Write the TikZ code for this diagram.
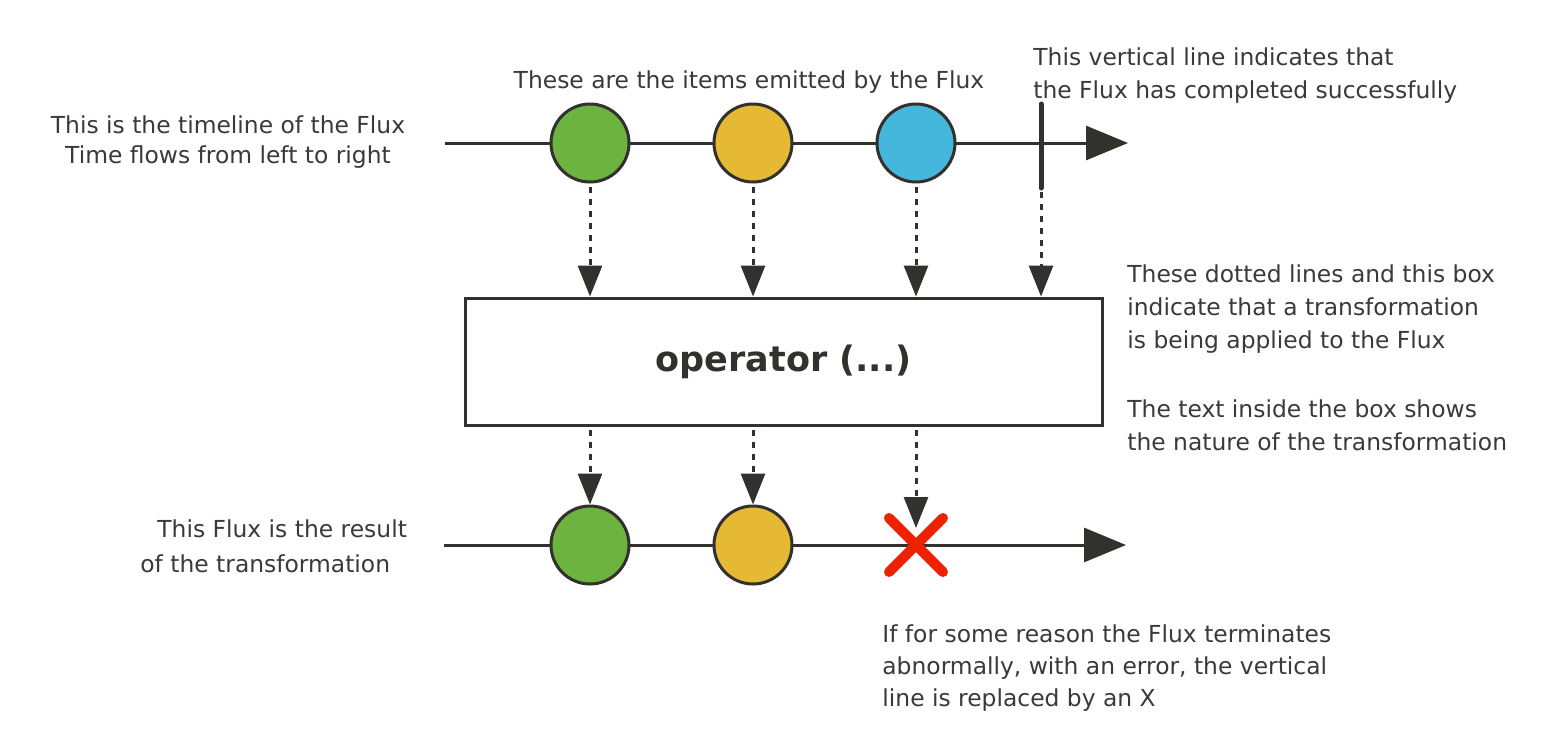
\documentclass[tikz,border=0pt]{standalone}
\usepackage{fontspec}
\setmainfont{DejaVu Sans}
\usetikzlibrary{arrows.meta}
\definecolor{ink}{HTML}{33312E}
\definecolor{txt}{HTML}{3A3A3A}
\definecolor{fgreen}{HTML}{6DB33F}
\definecolor{fyellow}{HTML}{E6B935}
\definecolor{fblue}{HTML}{45B6DC}
\definecolor{fred}{HTML}{EE2200}
\begin{document}
\begin{tikzpicture}[x=0.5pt,y=-0.5pt,
  timeline/.style={draw=ink, line width=1.5pt, -{Triangle[length=21pt,width=17pt]}},
  item/.style={circle, draw=ink, line width=1.5pt, minimum size=39pt, inner sep=0pt},
  flow/.style={draw=ink, line width=1.5pt, dash pattern=on 3pt off 3pt, -{Triangle[length=15.5pt,width=12pt]}},
  note/.style={inner sep=0pt, text=txt},
  opbox/.style={draw=ink, line width=1.5pt, minimum width=318.5pt, minimum height=63.5pt, inner sep=0pt, font=\bfseries\fontsize{17.5}{20}\selectfont, text=ink},
  errx/.style={draw=fred, line width=5pt, line cap=round},
  donebar/.style={draw=ink, line width=2.5pt, line cap=round},
]
\fill[white] (0,0) rectangle (1555,730);
\useasboundingbox (0,0) rectangle (1555,730);

% top timeline
\coordinate (tstart) at (445,143);
\coordinate (tend) at (1128,143);
\draw[timeline] (tstart) -- (tend);
\node[item, fill=fgreen] (t1) at (590,143) {};
\node[item, fill=fyellow] (t2) at (753,143) {};
\node[item, fill=fblue] (t3) at (916,143) {};
\coordinate (bartop) at (1041,104);
\coordinate (barbot) at (1041,188);
\draw[donebar] (bartop) -- (barbot);

% operator box
\node[opbox] (op) at (783.5,361.5) {operator (...)};

% flows into the box
\draw[flow] ([yshift=-1.5pt]t1.south) -- (t1.south |- op.north);
\draw[flow] ([yshift=-1.5pt]t2.south) -- (t2.south |- op.north);
\draw[flow] ([yshift=-1.5pt]t3.south) -- (t3.south |- op.north);
\draw[flow] ([yshift=-2pt]barbot) -- (barbot |- op.north);

% bottom timeline
\coordinate (bstart) at (444,545);
\coordinate (bend) at (1126,545);
\draw[timeline] (bstart) -- (bend);
\node[item, fill=fgreen] (b1) at (590,545) {};
\node[item, fill=fyellow] (b2) at (753,545) {};
\coordinate (xc) at (916,545);
\coordinate (xa) at (889,518);
\coordinate (xb) at (943,572);
\coordinate (xd) at (943,518);
\coordinate (xe) at (889,572);
\draw[errx] (xa) -- (xb);
\draw[errx] (xd) -- (xe);
\coordinate (xarrow) at (916,528);

% flows out of the box
\draw[flow] ([yshift=-1.5pt]op.south -| b1) -- (b1.north);
\draw[flow] ([yshift=-1.5pt]op.south -| b2) -- (b2.north);
\draw[flow] ([yshift=-1.5pt]op.south -| xc) -- (xarrow);

% notes
\node[note, anchor=north, font=\fontsize{11.7}{16.5}\selectfont] (itemsnote) at (749,70) {These are the items emitted by the Flux};
\node[note, anchor=north west, align=left, font=\fontsize{11.7}{16.5}\selectfont] (donenote) at (1033,47) {This vertical line indicates that\\the Flux has completed successfully};
\node[note, anchor=north, align=center, font=\fontsize{11.7}{15}\selectfont] (timenote) at (228,115) {This is the timeline of the Flux\\Time flows from left to right};
\node[note, anchor=north west, align=left, font=\fontsize{11.7}{16.5}\selectfont] (opnote) at (1127,264) {These dotted lines and this box\\indicate that a transformation\\is being applied to the Flux\\[18pt]The text inside the box shows\\the nature of the transformation};
\node[note, anchor=north west, align=left, font=\fontsize{11.7}{17.5}\selectfont] (resnote) at (140,519) {\hspace*{8.5pt}This Flux is the result\\of the transformation};
\node[note, anchor=north west, align=left, font=\fontsize{11.7}{16}\selectfont] (errnote) at (882,624) {If for some reason the Flux terminates\\abnormally, with an error, the vertical\\line is replaced by an X};
\end{tikzpicture}
\end{document}
